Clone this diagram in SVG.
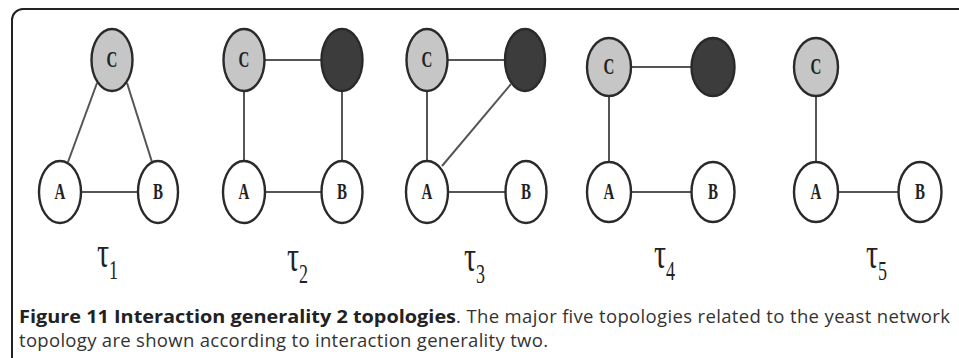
<svg xmlns="http://www.w3.org/2000/svg" width="959" height="358" viewBox="0 0 959 358">
<style>
.edge{stroke:#555;stroke-width:2;fill:none}
.nd{stroke:#2a2a2a;stroke-width:2.4}
.w{fill:#fff}
.g{fill:#c6c6c6}
.d{fill:#3c3c3c}
.lbl{font-family:"Liberation Serif",serif;font-weight:bold;font-size:15px;fill:#222;text-anchor:middle}
.tau{font-family:"Liberation Serif","DejaVu Serif",serif;font-size:30px;fill:#222}
.sub{font-size:18px}
.cap{font-family:"Open Sans",sans-serif;font-size:18.5px;fill:#333}
.b{font-weight:bold;fill:#222}
</style>
<rect x="12" y="9" width="980" height="380" rx="11" ry="11" fill="#fff" stroke="#222" stroke-width="2"/>
<g id="connectors">
<line class="edge" x1="97" y1="83" x2="68" y2="162"/>
<line class="edge" x1="127" y1="83" x2="152" y2="162"/>
<line class="edge" x1="81" y1="192" x2="138" y2="192"/>
<line class="edge" x1="265" y1="60" x2="322" y2="60"/>
<line class="edge" x1="244" y1="92" x2="244" y2="160"/>
<line class="edge" x1="342" y1="92" x2="342" y2="160"/>
<line class="edge" x1="265" y1="192" x2="322" y2="192"/>
<line class="edge" x1="448" y1="60" x2="505" y2="60"/>
<line class="edge" x1="427" y1="92" x2="427" y2="160"/>
<line class="edge" x1="442" y1="166" x2="511" y2="84"/>
<line class="edge" x1="448" y1="192" x2="505" y2="192"/>
<line class="edge" x1="631" y1="67" x2="692" y2="67"/>
<line class="edge" x1="609" y1="97" x2="609" y2="162"/>
<line class="edge" x1="631" y1="192" x2="692" y2="192"/>
<line class="edge" x1="816" y1="97" x2="816" y2="162"/>
<line class="edge" x1="838" y1="192" x2="898" y2="192"/>
</g>
<g id="t1">
<g id="t1-C"><ellipse class="nd g" cx="112" cy="60" rx="20.5" ry="31"/><text class="lbl" transform="translate(112,67) scale(1,1.5)">C</text></g>
<g id="t1-A"><ellipse class="nd w" cx="60" cy="192" rx="21" ry="31"/><text class="lbl" transform="translate(60,199) scale(1,1.5)">A</text></g>
<g id="t1-B"><ellipse class="nd w" cx="158" cy="192" rx="20" ry="31"/><text class="lbl" transform="translate(158,199) scale(1,1.5)">B</text></g>
<text class="tau" transform="translate(97,267) scale(1,1.5)">τ<tspan class="sub" dy="8">1</tspan></text>
</g>
<g id="t2">
<g id="t2-C"><ellipse class="nd g" cx="244" cy="60" rx="20.5" ry="31"/><text class="lbl" transform="translate(244,67) scale(1,1.5)">C</text></g>
<g id="t2-D"><ellipse class="nd d" cx="342" cy="60" rx="20.5" ry="31"/></g>
<g id="t2-A"><ellipse class="nd w" cx="244" cy="192" rx="21" ry="31"/><text class="lbl" transform="translate(244,199) scale(1,1.5)">A</text></g>
<g id="t2-B"><ellipse class="nd w" cx="342" cy="192" rx="20.5" ry="31"/><text class="lbl" transform="translate(342,199) scale(1,1.5)">B</text></g>
<text class="tau" transform="translate(287,271) scale(1,1.5)">τ<tspan class="sub" dy="8">2</tspan></text>
</g>
<g id="t3">
<g id="t3-C"><ellipse class="nd g" cx="427" cy="60" rx="20.5" ry="31"/><text class="lbl" transform="translate(427,67) scale(1,1.5)">C</text></g>
<g id="t3-D"><ellipse class="nd d" cx="525" cy="60" rx="20" ry="31"/></g>
<g id="t3-A"><ellipse class="nd w" cx="427" cy="192" rx="21" ry="31"/><text class="lbl" transform="translate(427,199) scale(1,1.5)">A</text></g>
<g id="t3-B"><ellipse class="nd w" cx="526" cy="192" rx="20.5" ry="31"/><text class="lbl" transform="translate(526,199) scale(1,1.5)">B</text></g>
<text class="tau" transform="translate(464,271) scale(1,1.5)">τ<tspan class="sub" dy="8">3</tspan></text>
</g>
<g id="t4">
<g id="t4-C"><ellipse class="nd g" cx="609" cy="67" rx="22" ry="29"/><text class="lbl" transform="translate(609,74) scale(1,1.5)">C</text></g>
<g id="t4-D"><ellipse class="nd d" cx="713" cy="67" rx="21.5" ry="29"/></g>
<g id="t4-A"><ellipse class="nd w" cx="609" cy="192" rx="22" ry="30"/><text class="lbl" transform="translate(609,199) scale(1,1.5)">A</text></g>
<g id="t4-B"><ellipse class="nd w" cx="713" cy="192" rx="21.5" ry="30"/><text class="lbl" transform="translate(713,199) scale(1,1.5)">B</text></g>
<text class="tau" transform="translate(654,268) scale(1,1.5)">τ<tspan class="sub" dy="8">4</tspan></text>
</g>
<g id="t5">
<g id="t5-C"><ellipse class="nd g" cx="816" cy="67" rx="22" ry="29"/><text class="lbl" transform="translate(816,74) scale(1,1.5)">C</text></g>
<g id="t5-A"><ellipse class="nd w" cx="816" cy="192" rx="22" ry="30"/><text class="lbl" transform="translate(816,199) scale(1,1.5)">A</text></g>
<g id="t5-B"><ellipse class="nd w" cx="920" cy="192" rx="21.5" ry="30"/><text class="lbl" transform="translate(920,199) scale(1,1.5)">B</text></g>
<text class="tau" transform="translate(866,268) scale(1,1.5)">τ<tspan class="sub" dy="8">5</tspan></text>
</g>
<g id="caption">
<text class="cap b" x="19" y="323" textLength="437" lengthAdjust="spacingAndGlyphs">Figure 11 Interaction generality 2 topologies</text>
<text class="cap" x="456" y="323" textLength="494" lengthAdjust="spacing">. The major five topologies related to the yeast network</text>
<text class="cap" x="19" y="347" textLength="529" lengthAdjust="spacing">topology are shown according to interaction generality two.</text>
</g>
</svg>
